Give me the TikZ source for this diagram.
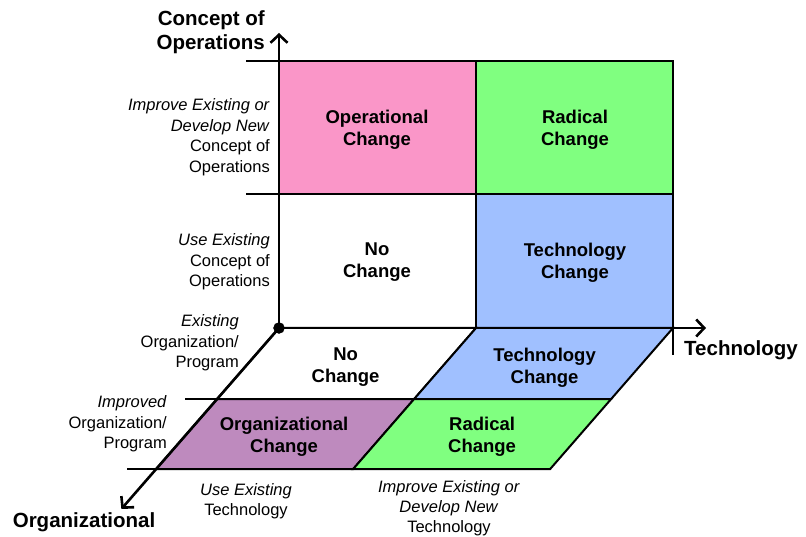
\documentclass[tikz,border=0pt]{standalone}
\usepackage{fontspec}
\setmainfont{Liberation Sans}
\usetikzlibrary{arrows.meta}

\definecolor{opspink}{RGB}{250,150,200}
\definecolor{radgreen}{RGB}{128,255,128}
\definecolor{techblue}{RGB}{160,192,255}
\definecolor{orgpurple}{RGB}{190,138,190}

\tikzset{
    cell/.style={font=\fontsize{18.5}{22}\selectfont\bfseries, align=center},
    sidelabel/.style={font=\fontsize{16.5}{20.5}\selectfont, align=right, anchor=east, inner sep=0pt},
    footlabel/.style={font=\fontsize{16.5}{20}\selectfont, align=center, inner sep=0pt},
    axislabel/.style={font=\fontsize{20.5}{24}\selectfont\bfseries, inner sep=0pt},
    gridline/.style={line width=2pt},
    axisline/.style={line width=2.6pt, -{Straight Barb[length=8pt,width=17pt]}}
}

\begin{document}
\begin{tikzpicture}[
    x={(1pt,0pt)},
    y={(0pt,-1pt)},
    z={(-0.871pt,-1pt)}
]
    \useasboundingbox (0,0) rectangle (806,537);

    % Define the axis points
    \coordinate (O) at (279,328,0);
    \coordinate (C) at (279,33,0);
    \coordinate (T) at (706,328,0);
    \coordinate (G) at (279,328,181);

    % Draw the upper panel (concept of operations vs technology)
    \draw[gridline, fill=opspink] (279,61) rectangle (476,194);
    \draw[gridline, fill=radgreen] (476,61) rectangle (673,194);
    \draw[gridline, fill=white] (279,194) rectangle (476,328);
    \draw[gridline, fill=techblue] (476,194) rectangle (673,328);

    % Draw the floor (organization vs technology)
    \draw[gridline, fill=white] (279,328,0) -- (476,328,0) -- (476,328,71) -- (279,328,71) -- cycle;
    \draw[gridline, fill=techblue] (476,328,0) -- (673,328,0) -- (673,328,71) -- (476,328,71) -- cycle;
    \draw[gridline, fill=orgpurple] (279,328,71) -- (476,328,71) -- (476,328,141) -- (279,328,141) -- cycle;
    \draw[gridline, fill=radgreen] (476,328,71) -- (673,328,71) -- (673,328,141) -- (476,328,141) -- cycle;

    % Draw the tick lines
    \draw[gridline] (246,61) -- (279,61);
    \draw[gridline] (246,194) -- (279,194);
    \draw[gridline] (247,328,71) -- (279,328,71);
    \draw[gridline] (250,328,141) -- (279,328,141);
    \draw[gridline] (673,328) -- (673,355);

    % Draw the axes
    \draw[axisline] (O) -- (C);
    \draw[axisline] (O) -- (T);
    \draw[axisline] (O) -- (G);
    \filldraw (O) circle (5.5pt);

    % Label the cells
    \node[cell] (opchange) at (377,129.5) {Operational\\Change};
    \node[cell] (radupper) at (575,129.5) {Radical\\Change};
    \node[cell] (noupper) at (377,262.5) {No\\Change};
    \node[cell] (techupper) at (575,262.5) {Technology\\Change};
    \node[cell] (nofloor) at (380,328,39.5) {No\\Change};
    \node[cell] (techfloor) at (579,328,39.5) {Technology\\Change};
    \node[cell] (orgchange) at (379,328,109) {Organizational\\Change};
    \node[cell] (radfloor) at (577,328,109) {Radical\\Change};

    % Label the axes
    \node[axislabel, align=right, anchor=east] (conopsaxis) at (265,32) {Concept of\\Operations};
    \node[axislabel, anchor=west] (techaxis) at (684,350) {Technology};
    \node[axislabel] (orgaxis) at (84,522) {Organizational};

    % Label the levels
    \node[sidelabel] (newconops) at (270,137) {\textit{Improve Existing or}\\\textit{Develop New}\\Concept of\\Operations};
    \node[sidelabel] (oldconops) at (270,262) {\textit{Use Existing}\\Concept of\\Operations};
    \node[sidelabel] (oldorg) at (239,343) {\textit{Existing}\\Organization/\\Program};
    \node[sidelabel] (neworg) at (167,424) {\textit{Improved}\\Organization/\\Program};
    \node[footlabel] (oldtech) at (246,501) {\textit{Use Existing}\\Technology};
    \node[footlabel] (newtech) at (449,508) {\textit{Improve Existing or}\\\textit{Develop New}\\Technology};

\end{tikzpicture}
\end{document}
